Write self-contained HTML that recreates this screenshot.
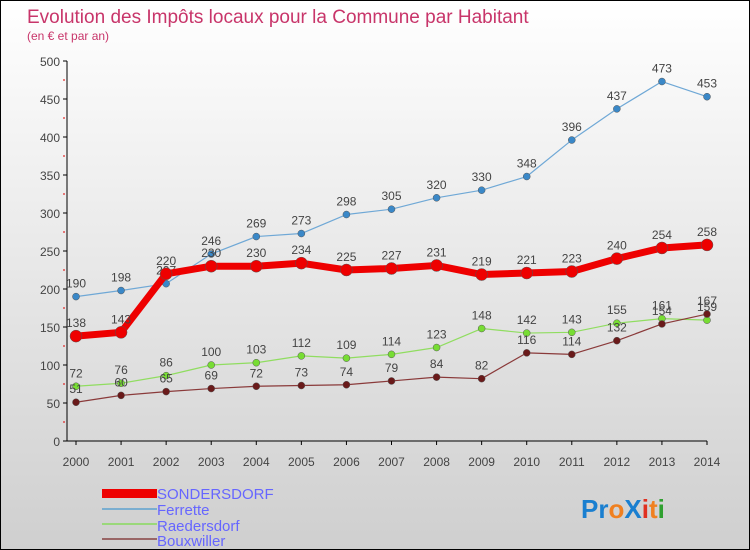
<!DOCTYPE html>
<html><head><meta charset="utf-8"><style>
body{margin:0}
#c{position:relative;width:750px;height:550px;box-sizing:border-box;border:1px solid #000;background:linear-gradient(#ffffff,#cfcfcf);font-family:"Liberation Sans",sans-serif;overflow:hidden}
svg text{font-family:"Liberation Sans",sans-serif}
</style></head><body>
<div id="c">
<svg id="s" width="750" height="550">
<text x="26" y="22" font-size="19" fill="#c8356a">Evolution des Impôts locaux pour la Commune par Habitant</text>
<text x="26" y="39" font-size="12" fill="#c8356a">(en € et par an)</text>
<g id="axes"></g><g id="series"></g>
<g>
<rect x="101" y="488" width="55" height="9" fill="#e00"/>
<text x="156" y="498" font-size="15" fill="#6666ff">SONDERSDORF</text>
<line x1="101" y1="508" x2="156" y2="508" stroke="#7aaed0" stroke-width="2"/>
<text x="156" y="514" font-size="15" fill="#6666ff">Ferrette</text>
<line x1="101" y1="523" x2="156" y2="523" stroke="#9ad87a" stroke-width="2"/>
<text x="156" y="530" font-size="15" fill="#6666ff">Raedersdorf</text>
<line x1="101" y1="538" x2="156" y2="538" stroke="#996666" stroke-width="2"/>
<text x="156" y="545" font-size="15" fill="#6666ff">Bouxwiller</text>
</g>
<text x="580" y="517" font-size="26" font-weight="bold"><tspan fill="#1a7fd0">Pr</tspan><tspan fill="#f08020">o</tspan><tspan fill="#1a7fd0">X</tspan><tspan fill="#e03020">i</tspan><tspan fill="#f08020">t</tspan><tspan fill="#30a030">i</tspan></text>
</svg></div>
<script>
const years=[2000,2001,2002,2003,2004,2005,2006,2007,2008,2009,2010,2011,2012,2013,2014];
const yTicks=[0,50,100,150,200,250,300,350,400,450,500];
const sondersdorf=[138,143,220,230,230,234,225,227,231,219,221,223,240,254,258];
const ferrette=[190,198,207,246,269,273,298,305,320,330,348,396,437,473,453];
const raedersdorf=[72,76,86,100,103,112,109,114,123,148,142,143,155,161,159];
const bouxwiller=[51,60,65,69,72,73,74,79,84,82,116,114,132,154,167];
const NS="http://www.w3.org/2000/svg";
const xS=i=>75+i*(706-75)/(years.length-1);
const yS=v=>440-v*0.76;
function mk(t,a,p){const e=document.createElementNS(NS,t);for(const k in a)e.setAttribute(k,a[k]);p.appendChild(e);return e;}
const ax=document.getElementById('axes');
let l=mk('line',{x1:66,y1:yS(500),x2:66,y2:440,stroke:'#000'},ax);


l=mk('line',{x1:66,y1:440,x2:706,y2:440,stroke:'#000'},ax);


yTicks.forEach(v=>{
 mk('line',{x1:62,y1:yS(v),x2:66,y2:yS(v),stroke:'#000'},ax);
 if(v<500) mk('line',{x1:62,y1:yS(v+25),x2:64,y2:yS(v+25),stroke:'#d00'},ax);
 const t=mk('text',{x:59,y:yS(v)+5,'font-size':12,fill:'#444','text-anchor':'end'},ax);t.textContent=v;
 
 
});
years.forEach((y,i)=>{
 mk('line',{x1:xS(i),y1:440,x2:xS(i),y2:444,stroke:'#000'},ax);
 const t=mk('text',{x:xS(i),y:465,'font-size':12,fill:'#444','text-anchor':'middle'},ax);t.textContent=y;
 
 
});
const sg=document.getElementById('series');
function draw(data,color,w,r,name,fill){
 const g=mk('g',{},sg);
 
 
 const p=mk('polyline',{points:data.map((v,i)=>xS(i)+','+yS(v)).join(' '),fill:'none',stroke:color,'stroke-width':w,'stroke-linejoin':'round'},g);
 
 
 data.forEach((v,i)=>{
  const c=mk('circle',{cx:xS(i),cy:yS(v),r:r,fill:fill,stroke:'#555','stroke-width':0.5},g);
  
  
  const t=mk('text',{x:xS(i),y:yS(v)-9,'font-size':12,fill:'#444','text-anchor':'middle'},g);t.textContent=v;
  
  
 });
}
draw(ferrette,'#6fa8d6',1.2,3.5,'ferrette','#3a88c8');
draw(raedersdorf,'#90dd60',1.2,3.5,'raedersdorf','#77dd33');
draw(bouxwiller,'#8a3a3a',1.2,3.5,'bouxwiller','#6a1a1a');
draw(sondersdorf,'#ee0000',7,6,'sondersdorf','#ee0000');
</script>
</body></html>
